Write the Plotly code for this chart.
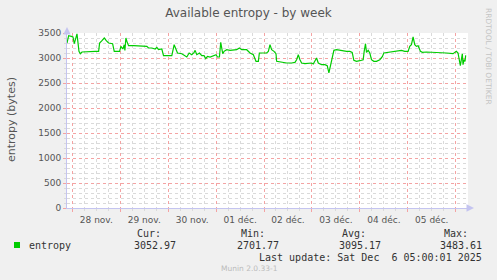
import pandas as pd
import plotly.graph_objects as go

# ---- data (hours after 2025-11-28 00:00, entropy in bytes) ----
hours = [-2.67, -1.83, -0.5, 0.33, 1.0, 1.67, 2.33, 3.33, 4.0, 4.83, 6.5, 8.17, 9.83, 11.5,
         13.17, 13.67, 14.83, 16.0, 17.0, 18.17, 20.17, 21.0, 23.67, 24.33, 25.33, 26.0,
         26.33, 26.83, 27.33, 28.17, 30.67, 34.0, 37.33, 38.17, 39.83, 41.5, 42.33, 43.17,
         44.83, 45.67, 49.83, 51.0, 51.83, 52.67, 54.83, 56.5, 57.33, 58.5, 59.83, 61.0,
         61.5, 62.33, 63.67, 64.83, 66.0, 66.83, 67.67, 69.0, 70.67, 72.0, 72.67, 73.67,
         74.33, 75.33, 76.0, 77.33, 79.0, 80.67, 82.33, 83.67, 84.83, 87.33, 89.0, 90.67,
         92.0, 93.17, 93.67, 97.33, 98.17, 99.0, 99.83, 101.0, 102.0, 102.33, 104.83, 107.33,
         109.83, 111.5, 112.33, 113.17, 114.0, 114.83, 116.5, 118.17, 119.83, 120.67, 122.33,
         123.17, 124.83, 126.5, 127.67, 128.5, 129.33, 130.33, 131.0, 132.33, 134.0, 135.67,
         137.33, 139.0, 140.17, 141.0, 142.33, 144.0, 145.67, 146.17, 146.83, 147.33, 148.17,
         149.0, 149.83, 151.0, 152.33, 154.0, 155.33, 156.0, 158.17, 159.83, 161.5, 163.17,
         164.83, 166.5, 168.17, 169.0, 169.83, 170.67, 171.5, 172.33, 173.17, 174.33, 175.33,
         177.33, 182.33, 187.33, 190.67, 191.5, 192.33, 193.17, 193.67, 194.33, 194.83, 195.33,
         195.67, 196.17, 196.67, 197.0]
entropy = [3300, 3446, 3433, 3420, 3286, 3420, 3483, 3133, 3086, 3120, 3126, 3133, 3126, 3133,
           3133, 3300, 3346, 3400, 3346, 3300, 3286, 3133, 3133, 3233, 3180, 3266,
           3153, 3400, 3333, 3246, 3246, 3240, 3233, 3200, 3200, 3180, 3213, 3166,
           3180, 3046, 3046, 3266, 3166, 3100, 3086, 3033, 3020, 3100, 3066, 3113,
           3153, 3066, 3100, 3046, 3046, 2986, 3033, 3020, 3046, 3066, 3020, 3020,
           3313, 3086, 3133, 3166, 3153, 3166, 3166, 3200, 3166, 3166, 3100, 3066,
           2933, 2933, 3100, 3100, 3133, 3266, 3166, 3133, 3086, 2933, 2913, 2900,
           2900, 2913, 2966, 3066, 2966, 2900, 2886, 2886, 2900, 2880, 3000,
           2900, 2866, 2866, 2846, 2702, 2866, 3033, 3153, 3166, 3153, 3146,
           3133, 3133, 3113, 2953, 2933, 2946, 2966, 3133, 3286, 3113, 3153,
           3100, 2966, 2933, 2933, 2966, 3033, 3100, 3113, 3113, 3133, 3133,
           3153, 3133, 3133, 3233, 3266, 3420, 3266, 3233, 3246, 3133, 3113,
           3120, 3113, 3100, 3086, 3113, 3133, 3100, 3000, 2846, 2966, 3086,
           2866, 2966, 2933, 3053]

day_ticks = ["2025-11-28", "2025-11-29", "2025-11-30", "2025-12-01", "2025-12-02",
             "2025-12-03", "2025-12-04", "2025-12-05", "2025-12-06"]
day_labels = ["28 nov.", "29 nov.", "30 nov.", "01 déc.", "02 déc.",
              "03 déc.", "04 déc.", "05 déc.", ""]
x_range = ["2025-11-27 21:20", "2025-12-06 06:10"]

stat_names = ["Cur:", "Min:", "Avg:", "Max:"]
stat_values = ["3052.97", "2701.77", "3095.17", "3483.61"]
series_name = "entropy"
last_update = "Last update: Sat Dec  6 05:00:01 2025"

base = pd.Timestamp("2025-11-28 00:00")
times = [base + pd.Timedelta(hours=h) for h in hours]

W, H = 497, 280
L, R, T, B = 67, 29, 33, 72
pw, ph = W - L - R, H - T - B

GREEN = "#00CC00"
MAJ = "#F4A3A3"
MIN = "#DADADA"
AXC = "#C4C4F0"
TXT = "#555555"
MONO = "DejaVu Sans Mono"
SANS = "DejaVu Sans"

fig = go.Figure()
fig.add_trace(go.Scatter(x=times, y=entropy, mode="lines",
                         line=dict(color=GREEN, width=1.2), showlegend=False,
                         hoverinfo="skip"))

def px_x(p):
    return (p - L) / pw

def px_y(p):
    return (H - B - p) / ph

annotations = []

def ann(text, x, y, xanchor="left", size=10, color="#333333", family=MONO, angle=0):
    annotations.append(dict(text=text, x=px_x(x), y=px_y(y), xref="paper", yref="paper",
                            xanchor=xanchor, yanchor="middle", showarrow=False,
                            textangle=angle,
                            font=dict(family=family, size=size, color=color)))

# legend row
ann(series_name, 26.5, 245.5)
stat_right_names = [161.5, 265.5, 367, 469.5]
stat_right_vals = [176.5, 279.5, 381.5, 483]
for n, v, xn, xv in zip(stat_names, stat_values, stat_right_names, stat_right_vals):
    ann(n, xn + 1, 233.5, xanchor="right")
    ann(v, xv + 1, 245.5, xanchor="right")
ann(last_update, 483.5, 257.5, xanchor="right")
ann("Munin 2.0.33-1", 249, 268.5, xanchor="center", size=7.5, color="#BBBBBB", family=SANS)
ann("RRDTOOL / TOBI OETIKER", 488.5, 56.5, xanchor="center", size=7.5, color="#C4C4C4",
    family=SANS, angle=90)
ann("entropy (bytes)", 11, 120, xanchor="center", size=11, color=TXT, family=SANS, angle=-90)

# axis arrows
annotations.append(dict(x=1, y=0, xref="paper", yref="paper", xshift=6, ax=-6, ay=0,
                        showarrow=True, arrowhead=2, arrowsize=1, arrowwidth=1.5,
                        arrowcolor=AXC, text=""))
annotations.append(dict(x=0, y=1, xref="paper", yref="paper", yshift=6, ax=0, ay=6,
                        showarrow=True, arrowhead=2, arrowsize=1, arrowwidth=1.5,
                        arrowcolor=AXC, text=""))

shapes = [dict(type="rect", xref="paper", yref="paper",
               xsizemode="pixel", ysizemode="pixel", xanchor=0, yanchor=0,
               x0=14 - L, x1=20 - L, y0=-(248 - (H - B)), y1=-(242 - (H - B)),
               fillcolor=GREEN, line=dict(width=0))]

fig.update_layout(
    width=W, height=H,
    margin=dict(l=L, r=R, t=T, b=B, pad=0),
    paper_bgcolor="#F0F0F0", plot_bgcolor="#FFFFFF",
    title=dict(text="Available entropy - by week", x=0.5, xanchor="center",
               y=1 - 13 / H, yanchor="middle",
               font=dict(family=SANS, size=12, color=TXT)),
    annotations=annotations, shapes=shapes,
    xaxis=dict(type="date", range=x_range, tickmode="array", tickvals=day_ticks,
               ticktext=day_labels, ticklabelshift=24,
               showgrid=True, gridcolor=MAJ, griddash="dot", gridwidth=1,
               ticks="outside", ticklen=3, tickcolor=MAJ,
               minor=dict(dtick=6 * 3600 * 1000, tick0="2025-11-28", showgrid=True,
                          gridcolor=MIN, griddash="dot", ticks="outside", ticklen=2,
                          tickcolor=MIN),
               showline=True, linecolor=AXC, linewidth=1, zeroline=False,
               tickfont=dict(family=SANS, size=9, color=TXT), fixedrange=True),
    yaxis=dict(range=[0, 3500], tickmode="linear", tick0=0, dtick=500,
               showgrid=True, gridcolor=MAJ, griddash="dot", gridwidth=1,
               ticks="outside", ticklen=3, tickcolor=MAJ,
               minor=dict(dtick=100, showgrid=True, gridcolor=MIN, griddash="dot",
                          ticks="outside", ticklen=2, tickcolor=MIN),
               showline=True, linecolor=AXC, linewidth=1, zeroline=False,
               tickfont=dict(family=SANS, size=9, color=TXT), fixedrange=True),
)

fig.write_html("out.html", config={"displayModeBar": False})
